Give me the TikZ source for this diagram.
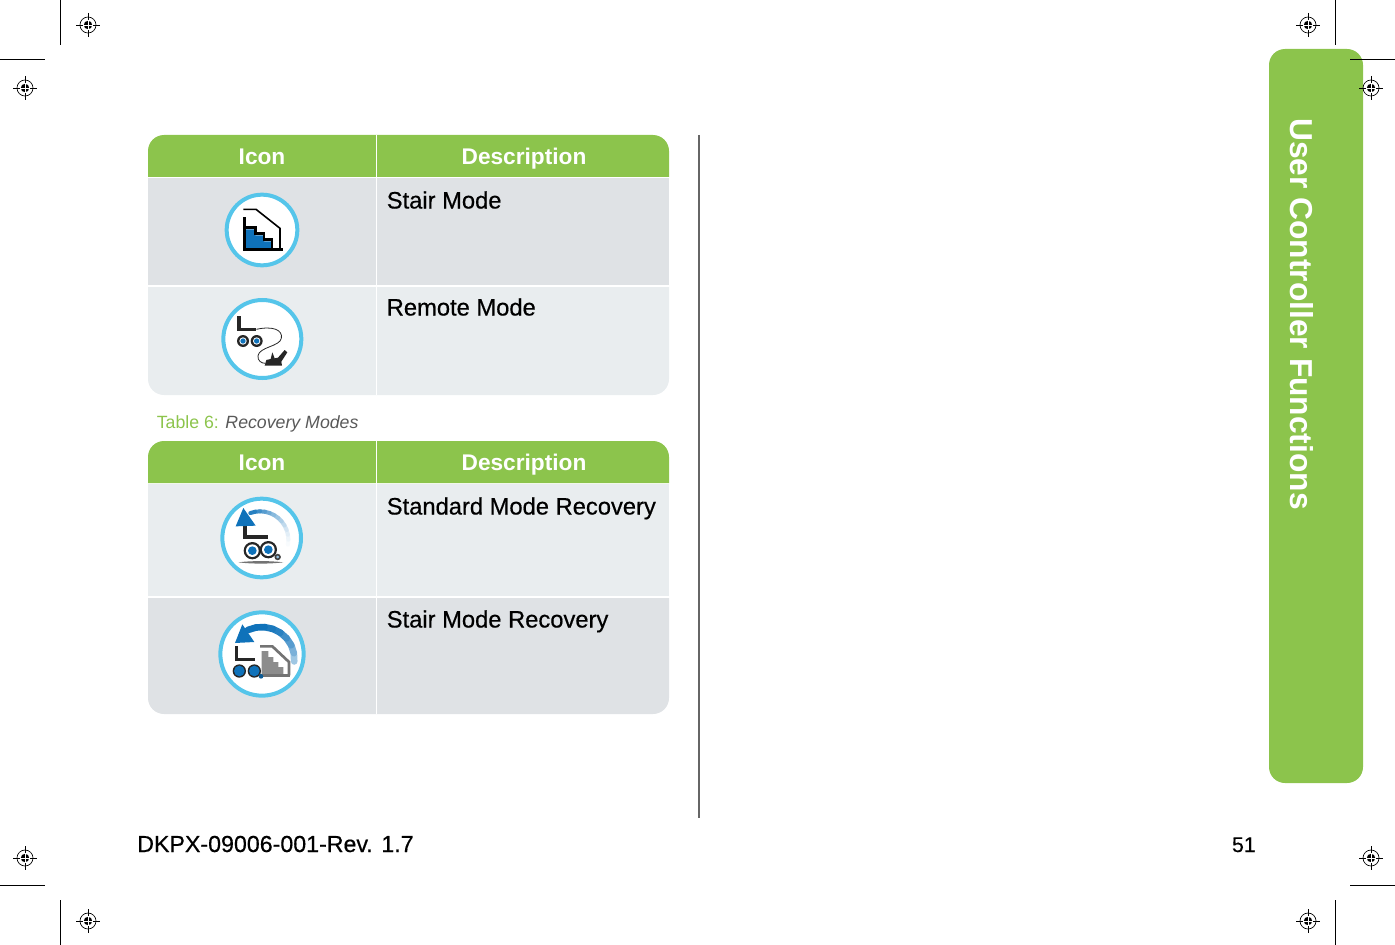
\documentclass[tikz,border=0pt]{standalone}
\usepackage{fontspec}
\setmainfont{Liberation Sans}
\newfontfamily\medfont[FakeBold=0.5]{Liberation Sans}
\usetikzlibrary{arrows.meta}
\definecolor{tabgreen}{HTML}{8CC44C}
\definecolor{rowdark}{HTML}{DFE2E5}
\definecolor{rowlight}{HTML}{E9EDEF}
\definecolor{ringblue}{HTML}{55C5EA}
\definecolor{iconblue}{HTML}{0F72BA}
\tikzset{
  headtext/.style={text=white,inner sep=0pt,font=\fontsize{17}{20}\selectfont\bfseries,anchor=base},
  celltext/.style={text=black,inner sep=0pt,font=\fontsize{17.8}{20}\selectfont\medfont,anchor=base west},
  cropline/.style={draw=black,line width=.75pt},
  iconring/.style={fill=white,draw=ringblue,line width=3pt},
  pics/regmark/.style={code={
    \draw[line width=.5pt] (0,0) circle (8);
    \draw[line width=.6pt] (-12,0) -- (12,0);
    \draw[line width=.6pt] (0,-12) -- (0,12);
    \fill (0,0) circle (4.2);
    \draw[white,line width=.4pt] (-5,0) -- (5,0);
    \draw[white,line width=.4pt] (0,-5) -- (0,5);
  }},
}
\newcommand{\robotwheel}[4]{
  \fill[black!85] (#1,#2) circle (#3);
  \fill[white] (#1,#2) circle (#3-7);
  \fill[iconblue] (#1,#2) circle (#4);
}
\begin{document}
\begin{tikzpicture}[x=.75pt,y=-.75pt]
\useasboundingbox (0,0) rectangle (1395,945);
\fill[tabgreen,rounded corners=12pt] (1269,49) rectangle (1363,783);
\foreach \mx/\my in {88/25,25/88,1308/25,1371/88,25/858,1371/858,88/921,1308/921}
  \pic at (\mx,\my) {regmark};
\draw[cropline] (60,0) -- (60,45);
\draw[cropline] (0,60) -- (45,60);
\draw[cropline] (1335,0) -- (1335,45);
\draw[cropline] (1350,60) -- (1395,60);
\draw[cropline] (0,885) -- (45,885);
\draw[cropline] (60,900) -- (60,945);
\draw[cropline] (1350,885) -- (1395,885);
\draw[cropline] (1335,900) -- (1335,945);
\draw[black!60,line width=1.2pt] (699,135) -- (699,818);
\fill[tabgreen] (148,177) -- (148,151) arc[start angle=180,end angle=270,radius=16] -- (653,135) arc[start angle=270,end angle=360,radius=16] -- (669,177) -- cycle;
\fill[rowdark] (148,178) rectangle (669,285);
\fill[rowlight] (148,287) -- (669,287) -- (669,379) arc[start angle=0,end angle=90,radius=16] -- (164,395) arc[start angle=90,end angle=180,radius=16] -- cycle;
\fill[tabgreen] (148,483) -- (148,457) arc[start angle=180,end angle=270,radius=16] -- (653,441) arc[start angle=270,end angle=360,radius=16] -- (669,483) -- cycle;
\fill[rowlight] (148,484) rectangle (669,596);
\fill[rowdark] (148,598) -- (669,598) -- (669,698) arc[start angle=0,end angle=90,radius=16] -- (164,714) arc[start angle=90,end angle=180,radius=16] -- cycle;
\draw[white,line width=1pt] (376.5,135) -- (376.5,395);
\draw[white,line width=1pt] (376.5,441) -- (376.5,714);
\node[headtext] (iconA) at (262,164.5) {Icon};
\node[headtext] (descA) at (524,164.5) {Description};
\node[headtext] (iconB) at (262,470.5) {Icon};
\node[headtext] (descB) at (524,470.5) {Description};
\node[celltext] (stair) at (386.5,208.5) {Stair Mode};
\node[celltext] (remote) at (386.5,315.5) {Remote Mode};
\node[celltext] (standard) at (386.5,514.5) {Standard Mode Recovery};
\node[celltext] (stairrec) at (386.5,627.5) {Stair Mode Recovery};
\node[anchor=base west,inner sep=0pt,font=\fontsize{13.3}{16}\selectfont,text=black!65] (caption) at (156.5,428) {\textcolor{tabgreen}{Table 6:} \textit{Recovery Modes}};
\node[anchor=base west,inner sep=0pt,font=\fontsize{17.4}{20}\selectfont\medfont] (docnum) at (137,852) {DKPX-09006-001-Rev. 1.7};
\node[anchor=base east,inner sep=0pt,font=\fontsize{16}{20}\selectfont\medfont] (pagenum) at (1256,852) {51};
\node[rotate=-90,anchor=center,text=white,font=\fontsize{23.8}{28}\selectfont\bfseries] (tabtitle) at (1302,314) {User Controller Functions};
\begin{scope}[shift={(200,180)},x=.25pt,y=-.25pt]
\draw[iconring] (186,150) circle (106);
\fill[iconblue] (138,205) -- (138,148) -- (166,148) -- (166,166) -- (192,166) -- (192,184) -- (216,184) -- (216,205) -- cycle;
\draw[black,line width=2pt] (133,112) -- (133,208);
\draw[black,line width=2pt] (130,208) -- (248,208);
\draw[black,line width=1.8pt] (133,142) -- (166,142) -- (166,160) -- (192,160) -- (192,178) -- (216,178) -- (216,208);
\draw[black,line width=1.2pt] (130,88) -- (168,88) -- (240,145) -- (240,208);
\end{scope}
\begin{scope}[shift={(218,295)},x=.25pt,y=-.25pt]
\draw[iconring] (133,132) circle (117);
\draw[black!85,line width=2.5pt] (63,63) -- (63,103) -- (115,103);
\draw[black!85,line width=.6pt] (115,103) .. controls (165,92) and (195,105) .. (190,130) .. controls (185,155) and (125,155) .. (120,182) .. controls (118,197) and (130,205) .. (142,205);
\robotwheel{75}{138}{18}{8}
\robotwheel{116}{138}{18}{8}
\fill[black!85] (140,212) -- (145,195) -- (158,192) -- (163,172) -- (170,190) -- (180,188) -- (200,165) -- (208,172) -- (190,200) -- (192,212) -- cycle;
\end{scope}
\begin{scope}[shift={(215,493)},x=.25pt,y=-.25pt]
\draw[iconring] (140,135) circle (118);
\fill[black!55] (70,208) .. controls (110,203) and (165,203) .. (205,208) .. controls (165,213) and (110,213) .. cycle;
\foreach \ang/\nxt/\shade in {0/-10/3,10/0/7,20/10/12,30/20/18,40/30/26,50/40/34,60/50/42,70/60/50,80/70/60,90/80/70,100/90/80,110/100/90}
  \draw[iconblue!\shade!white,line width=3pt,line cap=round] ({135+85*cos(\ang)},{140-85*sin(\ang)}) -- ({135+85*cos(\nxt)},{140-85*sin(\nxt)});
\draw[black!85,line width=3pt] (90,75) -- (90,132) -- (158,132);
\fill[iconblue] (62,100) -- (122,98) -- (85,45) -- cycle;
\robotwheel{112}{173}{26}{13}
\robotwheel{160}{170}{26}{13}
\draw[black!75,line width=1.2pt,fill=iconblue!45] (188,192) circle (7);
\end{scope}
\begin{scope}[shift={(215,607)},x=.25pt,y=-.25pt]
\draw[iconring] (141,141) circle (125);
\foreach \ang/\nxt/\shade in {10/-5/40,25/10/55,40/25/70,55/40/80,70/55/90,85/70/95,100/85/100,115/100/100}
  \draw[iconblue!\shade!white,line width=5pt,line cap=round] ({140+98*cos(\ang)},{155-95*sin(\ang)}) -- ({140+98*cos(\nxt)},{155-95*sin(\nxt)});
\fill[black!45] (140,205) -- (140,132) -- (160,132) -- (160,150) -- (175,150) -- (175,165) -- (190,165) -- (190,180) -- (205,180) -- (205,205) -- cycle;
\draw[black!55,line width=2pt] (135,118) -- (172,118) -- (222,165) -- (222,205);
\draw[black!55,line width=2pt] (135,205) -- (226,205);
\draw[black!85,line width=2.5pt] (65,118) -- (65,158) -- (120,158);
\fill[iconblue] (60,108) -- (118,105) -- (82,52) -- cycle;
\robotwheel{73}{192}{20}{16}
\robotwheel{118}{192}{20}{16}
\fill[iconblue!80!black] (138,208) circle (7);
\end{scope}
\end{tikzpicture}
\end{document}
